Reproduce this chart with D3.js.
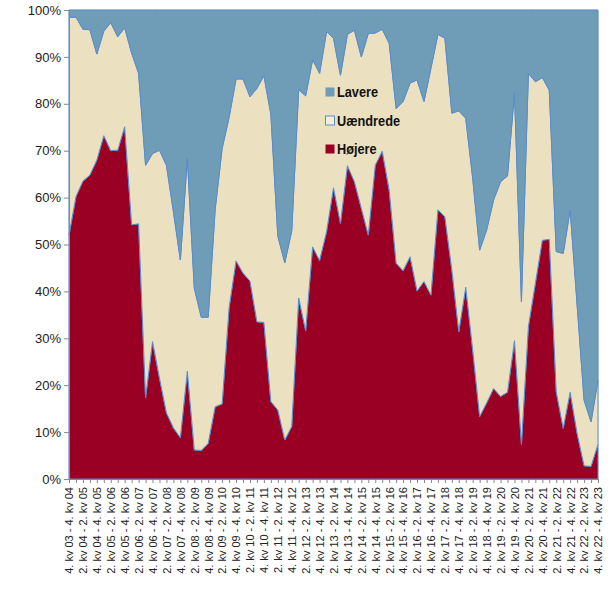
<!DOCTYPE html>
<html>
<head>
<meta charset="utf-8">
<script src="https://cdn.jsdelivr.net/npm/d3@7"></script>
<style>
  body { margin: 0; background: #fff; }
</style>
</head>
<body>
<script>
// Series values in percent, one per quarter from 4. kv 04 to 4. kv 23
const hojere = [
  52.0, 60.2, 63.5, 64.8, 68.0, 73.2, 70.0, 70.1, 75.1, 54.2,
  54.4, 17.3, 29.3, 21.5, 14.1, 10.9, 8.8, 23.0, 6.2, 6.1,
  7.6, 15.4, 16.0, 36.5, 46.5, 43.9, 42.2, 33.5, 33.4, 16.5,
  14.7, 8.3, 11.2, 38.6, 31.6, 49.5, 46.6, 52.7, 62.1, 54.5,
  66.8, 63.4, 57.7, 52.0, 66.9, 69.9, 61.6, 46.0, 44.4, 47.4,
  40.1, 42.1, 39.2, 57.4, 55.9, 44.6, 31.4, 40.9, 27.5, 13.3,
  16.2, 19.3, 17.6, 18.5, 29.5, 7.4, 32.5, 41.7, 50.9, 51.1,
  18.6, 10.8, 18.5, 9.7, 2.8, 2.7, 7.4
];
const uaendrede = [
  46.4, 38.3, 32.4, 31.0, 22.6, 22.3, 27.3, 24.2, 21.1, 36.6,
  32.1, 49.6, 40.1, 48.6, 52.8, 46.1, 37.9, 45.4, 34.5, 28.4,
  26.9, 42.1, 54.5, 40.6, 38.8, 41.4, 39.3, 49.8, 52.6, 61.3,
  37.1, 37.8, 41.7, 44.4, 50.1, 39.9, 39.9, 42.7, 31.9, 31.6,
  28.0, 32.3, 32.3, 43.0, 28.2, 26.0, 31.3, 33.0, 36.1, 37.0,
  45.0, 38.4, 48.4, 37.4, 38.1, 33.4, 47.1, 36.0, 36.6, 35.5,
  36.9, 40.2, 45.8, 46.1, 52.9, 30.4, 54.0, 43.0, 34.7, 31.8,
  29.9, 37.3, 38.9, 27.4, 14.0, 9.5, 13.7
];
const lavere = [
  1.6, 1.5, 4.1, 4.2, 9.4, 4.5, 2.7, 5.7, 3.8, 9.2,
  13.5, 33.1, 30.6, 29.9, 33.1, 43.0, 53.3, 31.6, 59.3, 65.5,
  65.5, 42.5, 29.5, 22.9, 14.7, 14.7, 18.5, 16.7, 14.0, 22.2,
  48.2, 53.9, 47.1, 17.0, 18.3, 10.6, 13.5, 4.6, 6.0, 13.9,
  5.2, 4.3, 10.0, 5.0, 4.9, 4.1, 7.1, 21.0, 19.5, 15.6,
  14.9, 19.5, 12.4, 5.2, 6.0, 22.0, 21.5, 23.1, 35.9, 51.2,
  46.9, 40.5, 36.6, 35.4, 17.6, 62.2, 13.5, 15.3, 14.4, 17.1,
  51.5, 51.9, 42.6, 62.9, 83.2, 87.8, 78.9
];

// Category labels: "q. kv yy-1 - q. kv yy", quarterly from 4. kv 04 to 4. kv 23
const quarters = [];
for (let year = 4; year <= 23; year++) {
  for (let q = 1; q <= 4; q++) {
    if (year === 4 && q < 4) continue;
    const pad = v => String(v).padStart(2, "0");
    quarters.push(`${q}. kv ${pad(year - 1)} - ${q}. kv ${pad(year)}`);
  }
}

const seriesNames = ["Højere", "Uændrede", "Lavere"];
const legendOrder = ["Lavere", "Uændrede", "Højere"];

// Constants
const width = 611;
const height = 598;
const plotLeft = 69, plotRight = 598, plotTop = 10, plotBottom = 479;
const colors = { "Højere": "#990024", "Uændrede": "#ebe1c0", "Lavere": "#6f9db8" };
const edge = "#5a8ccc";

const table = quarters.map((q, i) => ({
  quarter: q,
  "Højere": hojere[i],
  "Uændrede": uaendrede[i],
  "Lavere": lavere[i]
}));

// 100% stacked
const stack = d3.stack()
  .keys(seriesNames)
  .offset(d3.stackOffsetExpand);
const layers = stack(table);

const x = d3.scalePoint()
  .domain(quarters)
  .range([plotLeft, plotRight]);

const y = d3.scaleLinear()
  .domain([0, 1])
  .range([plotBottom, plotTop]);

const svg = d3.select("body").append("svg")
  .attr("width", width)
  .attr("height", height)
  .attr("viewBox", [0, 0, width, height]);

// Plot area border
svg.append("rect")
  .attr("x", plotLeft)
  .attr("y", plotTop)
  .attr("width", plotRight - plotLeft)
  .attr("height", plotBottom - plotTop)
  .attr("fill", "none")
  .attr("stroke", "#d9d9d9");

const area = d3.area()
  .x(d => x(d.data.quarter))
  .y0(d => y(d[0]))
  .y1(d => y(d[1]));

svg.append("g")
  .selectAll("path")
  .data(layers)
  .join("path")
    .attr("fill", d => colors[d.key])
    .attr("stroke", edge)
    .attr("stroke-width", 1)
    .attr("stroke-linejoin", "round")
    .attr("d", area);

// Y axis
const yAxis = svg.append("g")
  .attr("transform", `translate(${plotLeft},0)`)
  .call(d3.axisLeft(y).ticks(10).tickFormat(d3.format(".0%")).tickSize(5).tickPadding(3));
yAxis.select(".domain").attr("stroke", "#888");
yAxis.selectAll(".tick line").attr("stroke", "#888");
yAxis.selectAll("text")
  .attr("fill", "#222")
  .style("font", "13px 'Liberation Sans', Arial, sans-serif");

// X axis: a tick for every quarter, a label for every second
const xAxis = svg.append("g")
  .attr("transform", `translate(0,${plotBottom})`)
  .call(d3.axisBottom(x)
    .tickSize(4)
    .tickFormat((d, i) => i % 2 === 0 ? d : ""));
xAxis.select(".domain").attr("stroke", "#888");
xAxis.selectAll(".tick line").attr("stroke", "#888");
xAxis.selectAll("text")
  .attr("fill", "#222")
  .attr("transform", "rotate(-90)")
  .attr("text-anchor", "end")
  .attr("x", -8)
  .attr("y", 0)
  .attr("dy", "0.35em")
  .style("font", "11px 'Liberation Sans', Arial, sans-serif");

// Legend
const legend = svg.append("g")
  .attr("transform", "translate(325,87)")
  .selectAll("g")
  .data(legendOrder)
  .join("g")
    .attr("transform", (d, i) => `translate(0,${i * 28.5})`);
legend.append("rect")
  .attr("x", 0.5)
  .attr("y", 0.5)
  .attr("width", 9)
  .attr("height", 9)
  .attr("fill", d => d === "Uændrede" ? "#f4efdd" : colors[d])
  .attr("stroke", d => d === "Uændrede" ? edge : "none");
// Condensed bold look, as in the original
legend.append("text")
  .attr("transform", "translate(12,5) scale(0.88,1)")
  .attr("dy", "0.36em")
  .attr("fill", "#111")
  .style("font", "bold 14.5px 'Liberation Sans', Arial, sans-serif")
  .text(d => d);
</script>
</body>
</html>
